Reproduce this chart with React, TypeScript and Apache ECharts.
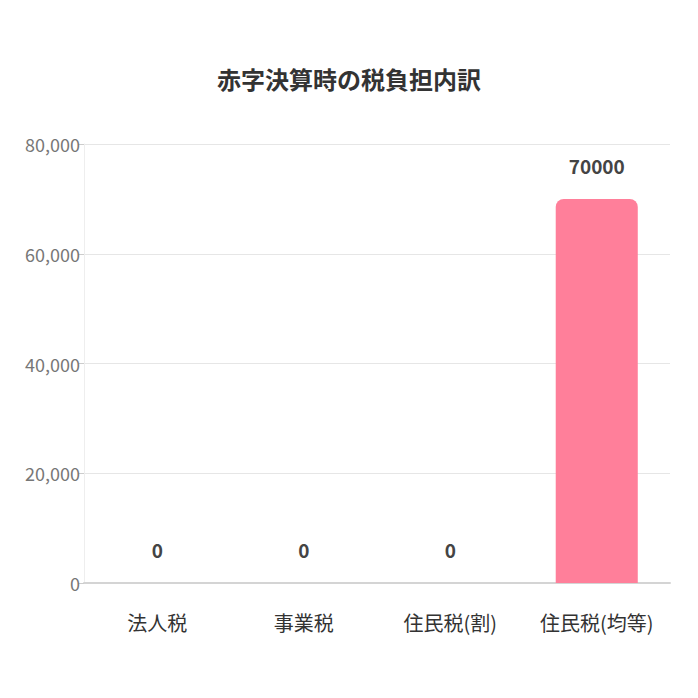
import React, { useEffect, useRef } from "react";
import * as echarts from "echarts";

const categories = ["法人税", "事業税", "住民税(割)", "住民税(均等)"];
const taxValues = [0, 0, 0, 70000];
const titleText = "赤字決算時の税負担内訳";

const App = () => {
  const chartRef = useRef<HTMLDivElement>(null);

  useEffect(() => {
    if (!chartRef.current) return;
    const chart = echarts.init(chartRef.current, null, { renderer: "svg" });
    const font = "'Noto Sans CJK JP', 'Noto Sans', sans-serif";

    chart.setOption({
      animation: false,
      backgroundColor: "#ffffff",
      title: {
        text: titleText,
        left: "center",
        top: 53,
        textStyle: { fontFamily: font, fontSize: 24, fontWeight: "bold", color: "#333333" },
      },
      grid: { left: 76, right: 20, top: 136, bottom: 107 },
      xAxis: {
        type: "category",
        data: categories,
        axisLine: { lineStyle: { color: "#d4d4d4", width: 2 } },
        axisTick: { show: false },
        axisLabel: { interval: 0, fontFamily: font, fontSize: 20, color: "#333333", margin: 29 },
      },
      yAxis: {
        type: "value",
        min: 0,
        max: 80000,
        interval: 20000,
        axisLine: { show: true, lineStyle: { color: "#eeeeee" } },
        axisTick: { show: true, length: 6, lineStyle: { color: "#cccccc" } },
        axisLabel: {
          fontFamily: font,
          fontSize: 18,
          color: "#777777",
          margin: 4,
          formatter: (v: number) => v.toLocaleString("en-US"),
        },
        splitLine: { lineStyle: { color: "#e6e6e6" } },
      },
      series: [
        {
          type: "bar",
          data: taxValues,
          barWidth: "56%",
          itemStyle: { color: "#ff7f9a", borderRadius: [8, 8, 0, 0] },
          label: {
            show: true,
            position: "top",
            distance: 24,
            fontFamily: font,
            fontSize: 19,
            fontWeight: "bold",
            color: "#444444",
          },
        },
      ],
    });

    return () => chart.dispose();
  }, []);

  return <div ref={chartRef} style={{ width: "682px", height: "682px" }} />;
};

export default App;
